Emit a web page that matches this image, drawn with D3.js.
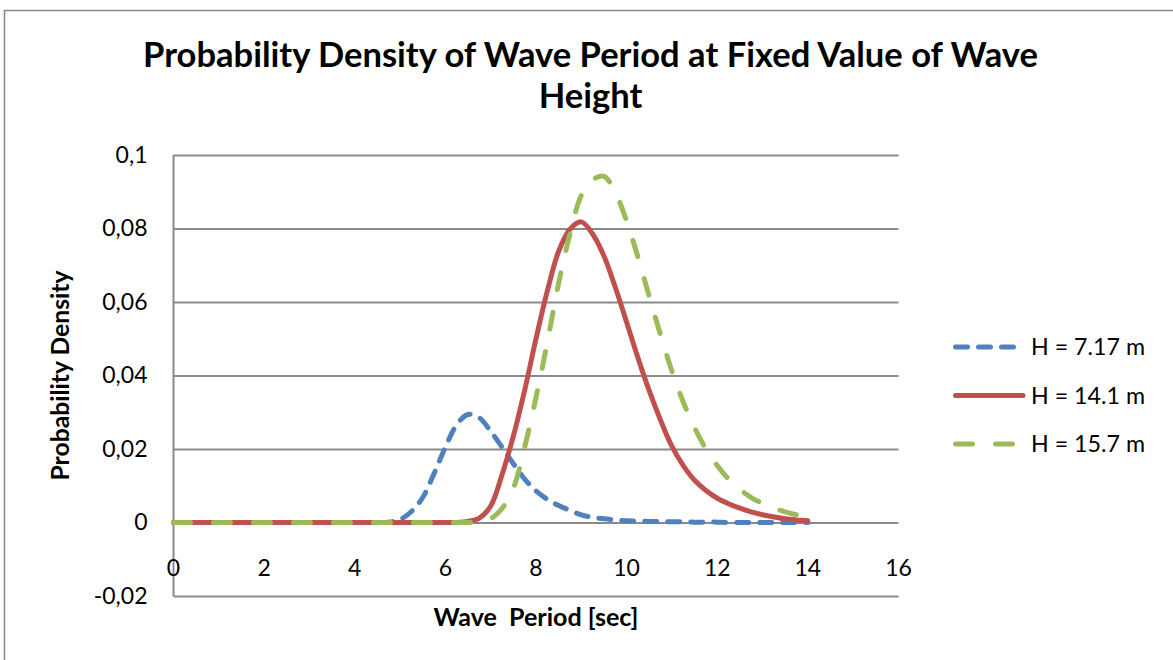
<!DOCTYPE html>
<html>
<head>
<meta charset="utf-8">
<script src="https://cdn.jsdelivr.net/npm/d3@7"></script>
<style>
  body { margin: 0; background: #fff; }
  text { font-family: Lato, "Open Sans", sans-serif; fill: #000; }
</style>
</head>
<body>
<svg id="chart" width="1173" height="660"></svg>
<script>
// Wave period [sec], same for all three series
var periods = [0, 0.25, 0.5, 0.75, 1, 1.25, 1.5, 1.75, 2, 2.25, 2.5, 2.75, 3, 3.25, 3.5, 3.75,
               4, 4.25, 4.5, 4.75, 5, 5.25, 5.5, 5.75, 6, 6.25, 6.5, 6.75, 7, 7.25, 7.5, 7.75,
               8, 8.25, 8.5, 8.75, 9, 9.25, 9.5, 9.75, 10, 10.25, 10.5, 10.75, 11, 11.25, 11.5, 11.75,
               12, 12.25, 12.5, 12.75, 13, 13.25, 13.5, 13.75, 14];

// probability density for H = 7.17 m
var density717 = [0, 0, 0, 0, 0, 0, 0, 0, 0, 0, 0, 0, 0, 0, 0, 0, 0, 0, 0, 0.0001,
                  0.0008, 0.0030, 0.0068, 0.0133, 0.0205, 0.0266, 0.0294, 0.0285, 0.0248, 0.0205,
                  0.0160, 0.0118, 0.0086, 0.0063, 0.0046, 0.0033, 0.0021, 0.0014, 0.0010, 0.0007,
                  0.0005, 0.0004, 0.0003, 0.0003, 0.0002, 0.0002, 0.0001, 0.0001, 0.0001,
                  0, 0, 0, 0, 0, 0, 0, 0];

// H = 14.1 m
var density141 = [0, 0, 0, 0, 0, 0, 0, 0, 0, 0, 0, 0, 0, 0, 0, 0, 0, 0, 0, 0, 0, 0, 0, 0, 0, 0,
                  0.0003, 0.0012, 0.0045, 0.0130, 0.0235, 0.0360, 0.0500, 0.0630, 0.0738, 0.0798,
                  0.0818, 0.0785, 0.0725, 0.0640, 0.0545, 0.0448, 0.0358, 0.0278, 0.0207, 0.0155,
                  0.0115, 0.0087, 0.0066, 0.0051, 0.0039, 0.0029, 0.0021, 0.0015, 0.0010, 0.0007, 0.0005];

// H = 15.7 m
var density157 = [0, 0, 0, 0, 0, 0, 0, 0, 0, 0, 0, 0, 0, 0, 0, 0, 0, 0, 0, 0, 0, 0, 0, 0, 0, 0, 0, 0,
                  0.0010, 0.0038, 0.0093, 0.0205, 0.0340, 0.0490, 0.0652, 0.0785, 0.0890, 0.0932,
                  0.0942, 0.0898, 0.0820, 0.0722, 0.0615, 0.0510, 0.0412, 0.0328, 0.0258, 0.0200,
                  0.0155, 0.0118, 0.0090, 0.0068, 0.0052, 0.0039, 0.0029, 0.0021, 0.0014];

var seriesNames = ["H = 7.17 m", "H = 14.1 m", "H = 15.7 m"];
var xTicks = [0, 2, 4, 6, 8, 10, 12, 14, 16];
var yTicks = [-0.02, 0, 0.02, 0.04, 0.06, 0.08, 0.1];
var yTickLabels = ["-0,02", "0", "0,02", "0,04", "0,06", "0,08", "0,1"];

var series = [
    { name: seriesNames[0], values: density717, color: "#4f81bd", dash: "12,11" },
    { name: seriesNames[1], values: density141, color: "#c0504d", dash: null },
    { name: seriesNames[2], values: density157, color: "#9bbb59", dash: "17,23" }
];

var svg = d3.select("#chart");
var plotLeft = 173.5, plotRight = 898.5, plotTop = 155, plotBottom = 596;
var gridColor = "#8a8a8a";

// shrink/grow a text's font so it spans the wanted width
function fitText(sel, width) {
    var size = parseFloat(sel.attr("font-size"));
    var w = sel.node().getComputedTextLength();
    sel.attr("font-size", (size * width / w).toFixed(2));
}

// chart area border
svg.append("rect")
   .attr("x", 4.5).attr("y", 10.5)
   .attr("width", 1200).attr("height", 700)
   .attr("fill", "none")
   .attr("stroke", "#868686")
   .attr("stroke-width", 1.5);

var x = d3.scaleLinear().domain([0, 16]).range([plotLeft, plotRight]);
var y = d3.scaleLinear().domain([-0.02, 0.1]).range([plotBottom, plotTop]);

// horizontal gridlines + y labels
var yAxis = svg.append("g")
   .attr("transform", "translate(" + plotLeft + ",0)")
   .call(d3.axisLeft(y)
       .tickValues(yTicks)
       .tickSize(-(plotRight - plotLeft))
       .tickPadding(26)
       .tickFormat(function(d, i) { return yTickLabels[i]; }));
yAxis.select(".domain").remove();
yAxis.selectAll(".tick line").attr("stroke", gridColor).attr("stroke-width", 2);
yAxis.selectAll(".tick text")
     .attr("font-family", "Lato, sans-serif")
     .attr("font-size", 23)
     .attr("fill", "#000");

// vertical axis line
svg.append("line")
   .attr("x1", plotLeft).attr("x2", plotLeft)
   .attr("y1", y(0.1)).attr("y2", y(-0.02))
   .attr("stroke", gridColor).attr("stroke-width", 2);

// x tick labels
svg.selectAll(".x-label")
   .data(xTicks)
   .enter().append("text")
   .attr("class", "x-label")
   .attr("x", function(d) { return x(d); })
   .attr("y", y(0) + 53)
   .attr("text-anchor", "middle")
   .attr("font-size", 23)
   .text(function(d) { return d; });

// the curves (smoothed like the spreadsheet lines)
var line = d3.line()
    .x(function(d, i) { return x(periods[i]); })
    .y(function(d) { return y(d); })
    .curve(d3.curveCatmullRom.alpha(0.5));

svg.selectAll(".series")
   .data(series)
   .enter().append("path")
   .attr("class", "series")
   .attr("d", function(s) { return line(s.values); })
   .attr("fill", "none")
   .attr("stroke", function(s) { return s.color; })
   .attr("stroke-width", 5)
   .attr("stroke-linecap", "round")
   .attr("stroke-linejoin", "round")
   .attr("stroke-dasharray", function(s) { return s.dash; });

// title
var t1 = svg.append("text")
   .attr("x", 590.5).attr("y", 67)
   .attr("text-anchor", "middle")
   .attr("font-weight", "bold")
   .attr("font-size", 33)
   .text("Probability Density of Wave Period at Fixed Value of Wave");
fitText(t1, 895);
svg.append("text")
   .attr("x", 590.5).attr("y", 108)
   .attr("text-anchor", "middle")
   .attr("font-weight", "bold")
   .attr("font-size", t1.attr("font-size"))
   .text("Height");

// axis titles
var xt = svg.append("text")
   .attr("x", (plotLeft + plotRight) / 2).attr("y", 626)
   .attr("text-anchor", "middle")
   .attr("font-weight", "bold")
   .attr("font-size", 21)
   .style("white-space", "pre")
   .text("Wave  Period [sec]");
fitText(xt, 205);

var yt = svg.append("text")
   .attr("transform", "translate(69," + ((plotTop + plotBottom) / 2) + ") rotate(-90)")
   .attr("text-anchor", "middle")
   .attr("font-weight", "bold")
   .attr("font-size", 21)
   .text("Probability Density");
fitText(yt, 210);

// legend
var legend = svg.selectAll(".legend")
   .data(series)
   .enter().append("g")
   .attr("class", "legend")
   .attr("transform", function(s, i) { return "translate(953," + (347 + i * 48.5) + ")"; });

legend.append("line")
   .attr("x1", 2.5).attr("x2", 70)
   .attr("stroke", function(s) { return s.color; })
   .attr("stroke-width", 5)
   .attr("stroke-linecap", "round")
   .attr("stroke-dasharray", function(s) { return s.dash; });

legend.append("text")
   .attr("x", 78)
   .attr("dy", "0.36em")
   .attr("font-size", 22)
   .text(function(s) { return s.name; })
   .each(function() { fitText(d3.select(this), 114); });
</script>
</body>
</html>
